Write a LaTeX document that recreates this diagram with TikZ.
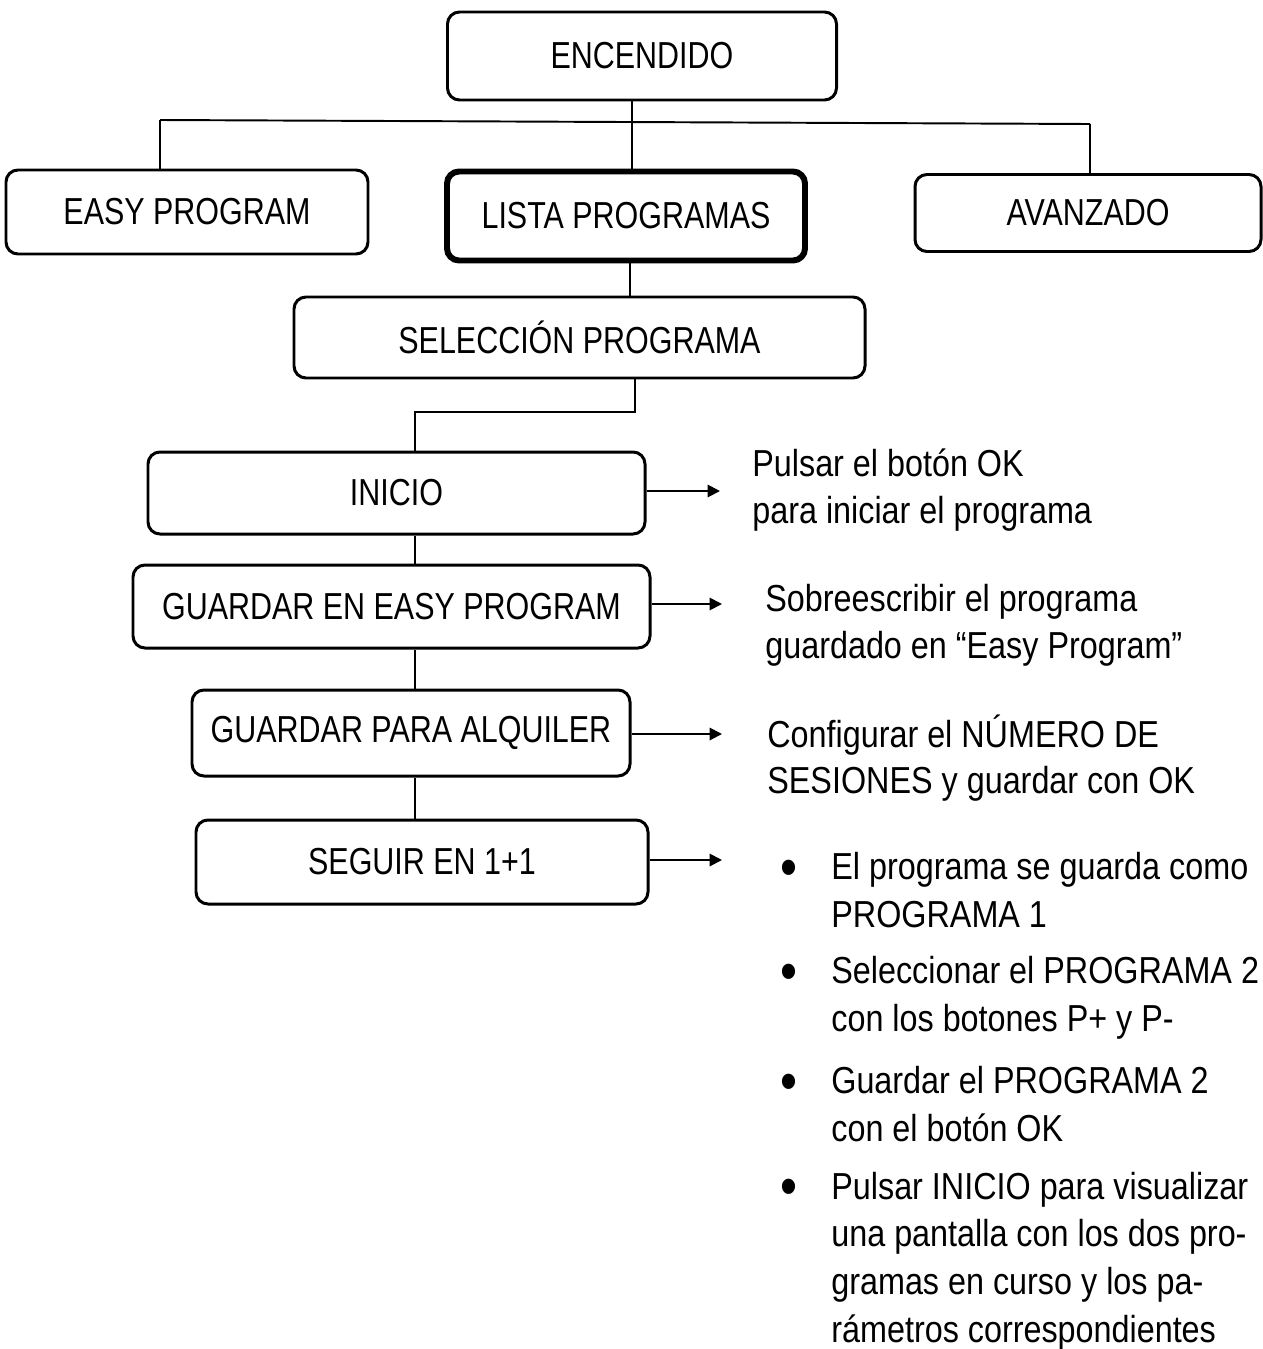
\documentclass[tikz,border=0pt]{standalone}
\usepackage{fontspec}
\setmainfont[FakeStretch=0.81]{Liberation Sans}
\newfontfamily\notefont[FakeStretch=0.86]{Liberation Sans}
\usetikzlibrary{arrows.meta}

\tikzset{
  box/.style 2 args={draw, line width=1.7pt, rounded corners=0.24cm,
    minimum width=#1*0.02cm, minimum height=#2*0.02cm, inner sep=0pt},
  mainbox/.style={line width=3.4pt},
  link/.style={line width=1.1pt},
  toarrow/.style={line width=1.1pt, -{Triangle[length=7pt,width=7pt]}},
  note/.style={anchor=west, align=left, inner sep=0pt,
    font=\notefont\fontsize{21.4}{26.6}\selectfont},
  item/.style={note, font=\notefont\fontsize{21.4}{27.2}\selectfont},
}
\newcommand{\txt}{\fontsize{21.4}{27}\selectfont}
\newcommand{\bul}{\llap{\raisebox{-0.18em}{\scalebox{1.5}{\textbullet}}\hspace{0.68cm}}}

\begin{document}
\begin{tikzpicture}[x=0.02cm, y=-0.02cm, font=\txt]
  \useasboundingbox (0,0) rectangle (1263,1349);

  % top level
  \node[box={389}{88}] (enc) at (642,56) {ENCENDIDO};
  \node[box={362}{84}] (easy) at (187,212) {EASY PROGRAM};
  \node[box={358}{89}, mainbox] (lista) at (626,216) {LISTA PROGRAMAS};
  \node[box={346}{77}] (avz) at (1088,213) {AVANZADO};

  % branches under ENCENDIDO
  \coordinate (jL) at (160,120);
  \coordinate (jM) at (632,122);
  \coordinate (jR) at (1090,124);
  \draw[link] (jL) -- (jR);
  \draw[link] (jM |- enc.south) -- (jM |- lista.north);
  \draw[link] (jL) -- (jL |- easy.north);
  \draw[link] (jR) -- (jR |- avz.north);

  % program selection
  \node[box={571}{81}] (sel) at (579.5,337.5) {SELECCIÓN PROGRAMA};
  \coordinate (kL) at (630,0);
  \draw[link] (kL |- lista.south) -- (kL |- sel.north);

  % steps
  \node[box={497}{82}] (ini) at (396.5,493) {INICIO};
  \node[box={517}{83}] (gee) at (391.5,606.5) {GUARDAR EN EASY PROGRAM};
  \node[box={438}{86}] (alq) at (411,733) {GUARDAR PARA ALQUILER};
  \node[box={452}{84}] (seg) at (422,862) {SEGUIR EN 1+1};

  \coordinate (kS) at (635,412);
  \coordinate (spine) at (415,412);
  \draw[link] (kS |- sel.south) -- (kS) -- (spine) -- (spine |- ini.north);
  \draw[link] (spine |- ini.south) -- (spine |- gee.north);
  \draw[link] (spine |- gee.south) -- (spine |- alq.north);
  \draw[link] (spine |- alq.south) -- (spine |- seg.north);

  % notes on the right
  \coordinate (t1) at (720,491);
  \coordinate (t2) at (722,604);
  \coordinate (t3) at (722,734);
  \coordinate (t4) at (722,860);
  \draw[toarrow] (ini.east |- t1) -- (t1);
  \draw[toarrow] (gee.east |- t2) -- (t2);
  \draw[toarrow] (alq.east |- t3) -- (t3);
  \draw[toarrow] (seg.east |- t4) -- (t4);

  \node[note] (n1) at (752,490)
    {Pulsar el botón OK\\para iniciar el programa};
  \node[note] (n2) at (765,625)
    {Sobreescribir el programa\\guardado en “Easy Program”};
  \node[note] (n3) at (767,758)
    {Configurar el NÚMERO DE\\SESIONES y guardar con OK};

  \node[item] (b1) at (831,890)
    {\bul El programa se guarda como\\PROGRAMA 1};
  \node[item] (b2) at (831,998)
    {\bul Seleccionar el PROGRAMA 2\\con los botones P+ y P-};
  \node[item] (b3) at (831,1104)
    {\bul Guardar el PROGRAMA 2\\con el botón OK};
  \node[item] (b4) at (831,1261)
    {\bul Pulsar INICIO para visualizar\\una pantalla con los dos pro-\\gramas en curso y los pa-\\rámetros correspondientes};
\end{tikzpicture}
\end{document}
